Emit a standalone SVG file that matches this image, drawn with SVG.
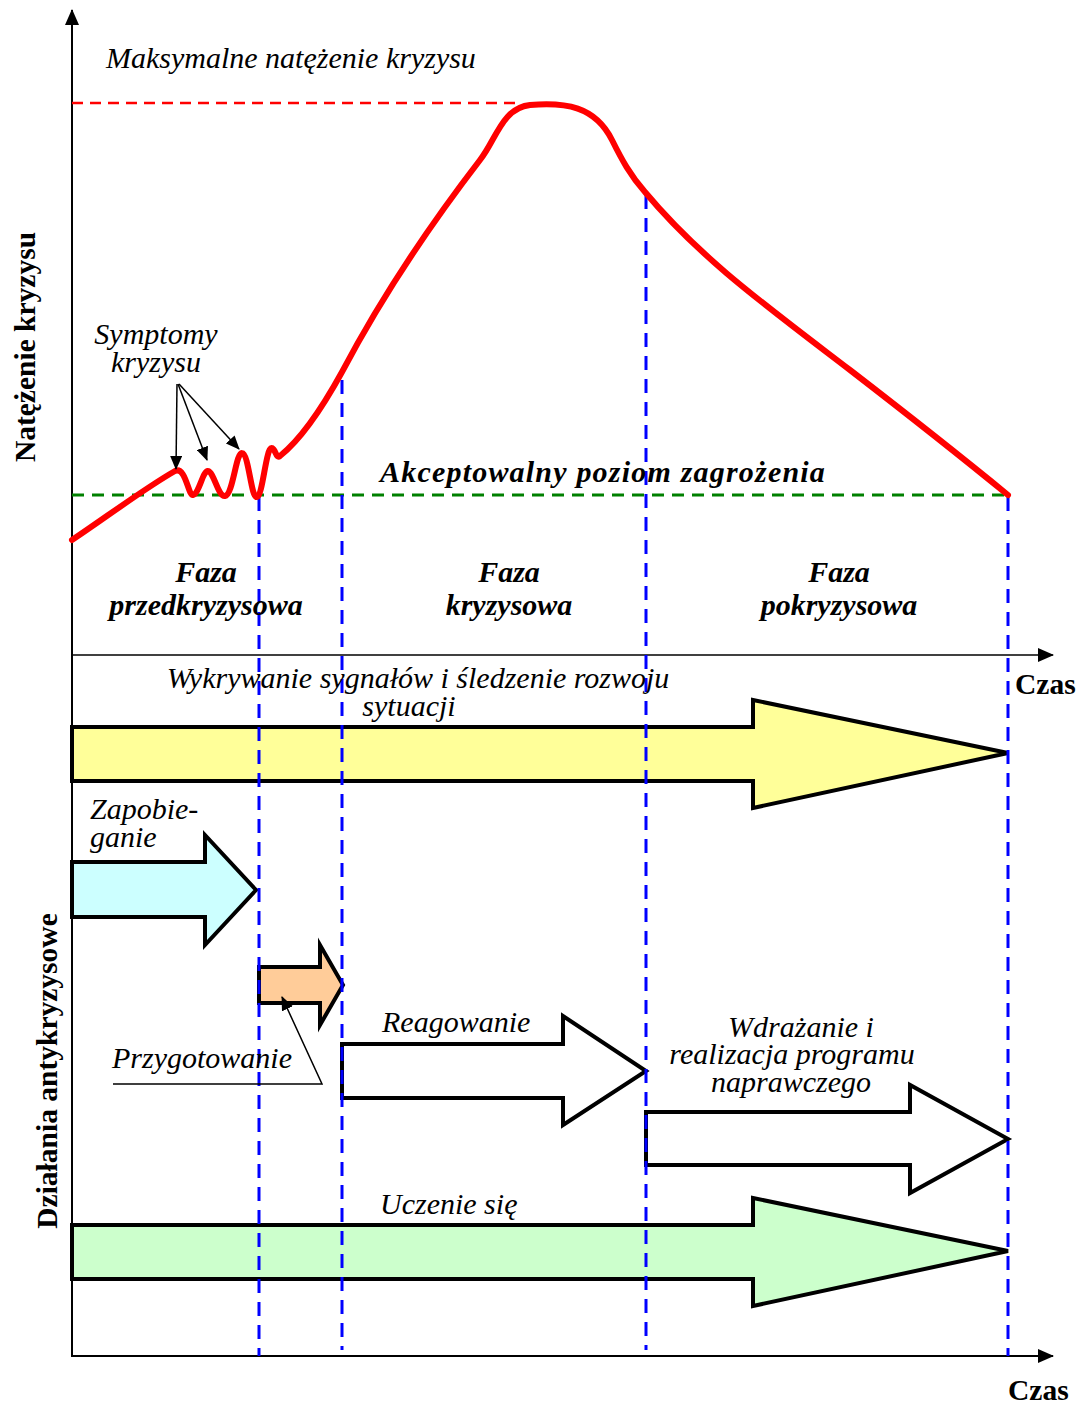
<svg xmlns="http://www.w3.org/2000/svg" width="1078" height="1407" viewBox="0 0 1078 1407">
<style>
.it{font-family:"Liberation Serif",serif;font-style:italic;font-size:30px;fill:#000}
.bi{font-family:"Liberation Serif",serif;font-style:italic;font-weight:bold;font-size:30px;fill:#000}
.b{font-family:"Liberation Serif",serif;font-weight:bold;font-size:29.5px;fill:#000}
.arr{stroke:#000;stroke-width:4;stroke-linejoin:miter}
.blue{stroke:#0000FF;stroke-width:3;stroke-dasharray:14 9;fill:none}
.ax{stroke:#000;stroke-width:2;fill:none}
.thin{stroke:#000;stroke-width:1.5;fill:none}
</style>
<defs>
<marker id="sm" markerWidth="14" markerHeight="12" refX="13" refY="6" orient="auto" markerUnits="userSpaceOnUse" viewBox="0 0 14 12">
<path d="M0,0 L14,6 L0,12 z" fill="#000"/>
</marker>
<marker id="ax" markerWidth="16" markerHeight="14" refX="15" refY="7" orient="auto" markerUnits="userSpaceOnUse" viewBox="0 0 16 14">
<path d="M0,0 L16,7 L0,14 z" fill="#000"/>
</marker>
</defs>
<rect width="1078" height="1407" fill="#fff"/>

<g id="axes">
<line class="ax" x1="72" y1="1357" x2="72" y2="10" marker-end="url(#ax)"/>
<line class="thin" x1="72" y1="655" x2="1053" y2="655" marker-end="url(#ax)"/>
<line class="ax" x1="72" y1="1356" x2="1053" y2="1356" marker-end="url(#ax)"/>
</g>

<g id="arrow-wykrywanie">
<polygon class="arr" fill="#FFFF99" points="72,727 753,727 753,700 1008,753 753,808 753,781 72,781"/>
</g>
<g id="arrow-zapobieganie">
<polygon class="arr" fill="#CCFFFF" points="72,862 205,862 205,835 256,890 205,945 205,917 72,917"/>
</g>
<g id="arrow-przygotowanie">
<polygon class="arr" fill="#FFCC99" points="259,967 320,967 320,945 343,985 320,1025 320,1003 259,1003"/>
</g>
<g id="arrow-reagowanie">
<polygon class="arr" fill="#fff" points="342,1044 563,1044 563,1016 646,1071 563,1125 563,1098 342,1098"/>
</g>
<g id="arrow-wdrazanie">
<polygon class="arr" fill="#fff" points="646,1112 910,1112 910,1085 1008,1139 910,1193 910,1165 646,1165"/>
</g>
<g id="arrow-uczenie">
<polygon class="arr" fill="#CCFFCC" points="72,1225 753,1225 753,1198 1008,1251 753,1306 753,1279 72,1279"/>
</g>

<g id="levels">
<line x1="72" y1="103" x2="522" y2="103" stroke="#FF0000" stroke-width="2.5" stroke-dasharray="11 7"/>
<line x1="72" y1="495" x2="1008" y2="495" stroke="#008000" stroke-width="3" stroke-dasharray="12 8"/>
</g>

<g id="phase-lines">
<line class="blue" x1="259" y1="497" x2="259" y2="1356"/>
<line class="blue" x1="342" y1="380" x2="342" y2="1350"/>
<line class="blue" x1="646" y1="195" x2="646" y2="1350"/>
<line class="blue" x1="1008" y1="497" x2="1008" y2="1356"/>
</g>

<g id="curve">
<path d="M72,540 C105,518 145,488 175,471 C186,466 188,496 193,495 C199,494 203,470 208,471 C214,472 218,497 225,496 C233,495 236,452 242,453 C249,454 251,499 257,497 C263,495 266,446 272,448 C276,450 276,459 280,456 C300,440 320,412 342,372 C380,300 430,225 480,160 C496,140 502,108 530,105 C565,102 595,106 612,140 C622,160 630,175 645,192 C700,258 765,305 850,370 C920,424 975,468 1008,495" fill="none" stroke="#FF0000" stroke-width="6" stroke-linejoin="round" stroke-linecap="round"/>
</g>

<g id="connectors">
<line class="thin" x1="177" y1="384" x2="176" y2="469" marker-end="url(#sm)"/>
<line class="thin" x1="178" y1="384" x2="207" y2="460" marker-end="url(#sm)"/>
<line class="thin" x1="179" y1="384" x2="239" y2="449" marker-end="url(#sm)"/>
<polyline class="thin" points="113,1084 322,1084 282,997" marker-end="url(#sm)"/>
</g>

<g id="labels">
<text class="it" x="106" y="68">Maksymalne natężenie kryzysu</text>
<text class="it" x="156" y="344" text-anchor="middle">Symptomy</text>
<text class="it" x="156" y="372" text-anchor="middle">kryzysu</text>
<text class="bi" x="380" y="482" font-size="32" letter-spacing="1.2">Akceptowalny poziom zagrożenia</text>
<text class="bi" x="206" y="582" text-anchor="middle">Faza</text>
<text class="bi" x="206" y="615" text-anchor="middle">przedkryzysowa</text>
<text class="bi" x="509" y="582" text-anchor="middle">Faza</text>
<text class="bi" x="509" y="615" text-anchor="middle">kryzysowa</text>
<text class="bi" x="839" y="582" text-anchor="middle">Faza</text>
<text class="bi" x="839" y="615" text-anchor="middle">pokryzysowa</text>
<text class="it" x="418" y="688" text-anchor="middle">Wykrywanie sygnałów i śledzenie rozwoju</text>
<text class="it" x="409" y="716" text-anchor="middle">sytuacji</text>
<text class="b" x="1015" y="694">Czas</text>
<text class="b" x="1008" y="1400">Czas</text>
<text class="it" x="90" y="819">Zapobie-</text>
<text class="it" x="90" y="847">ganie</text>
<text class="it" x="112" y="1068">Przygotowanie</text>
<text class="it" x="382" y="1032">Reagowanie</text>
<text class="it" x="801" y="1037" text-anchor="middle">Wdrażanie i</text>
<text class="it" x="792" y="1064" text-anchor="middle">realizacja programu</text>
<text class="it" x="791" y="1092" text-anchor="middle">naprawczego</text>
<text class="it" x="380" y="1214">Uczenie się</text>
<text class="b" transform="translate(35,347) rotate(-90)" text-anchor="middle" font-size="30">Natężenie  kryzysu</text>
<text class="b" transform="translate(57,1071) rotate(-90)" text-anchor="middle" font-size="29">Działania antykryzysowe</text>
</g>
</svg>
